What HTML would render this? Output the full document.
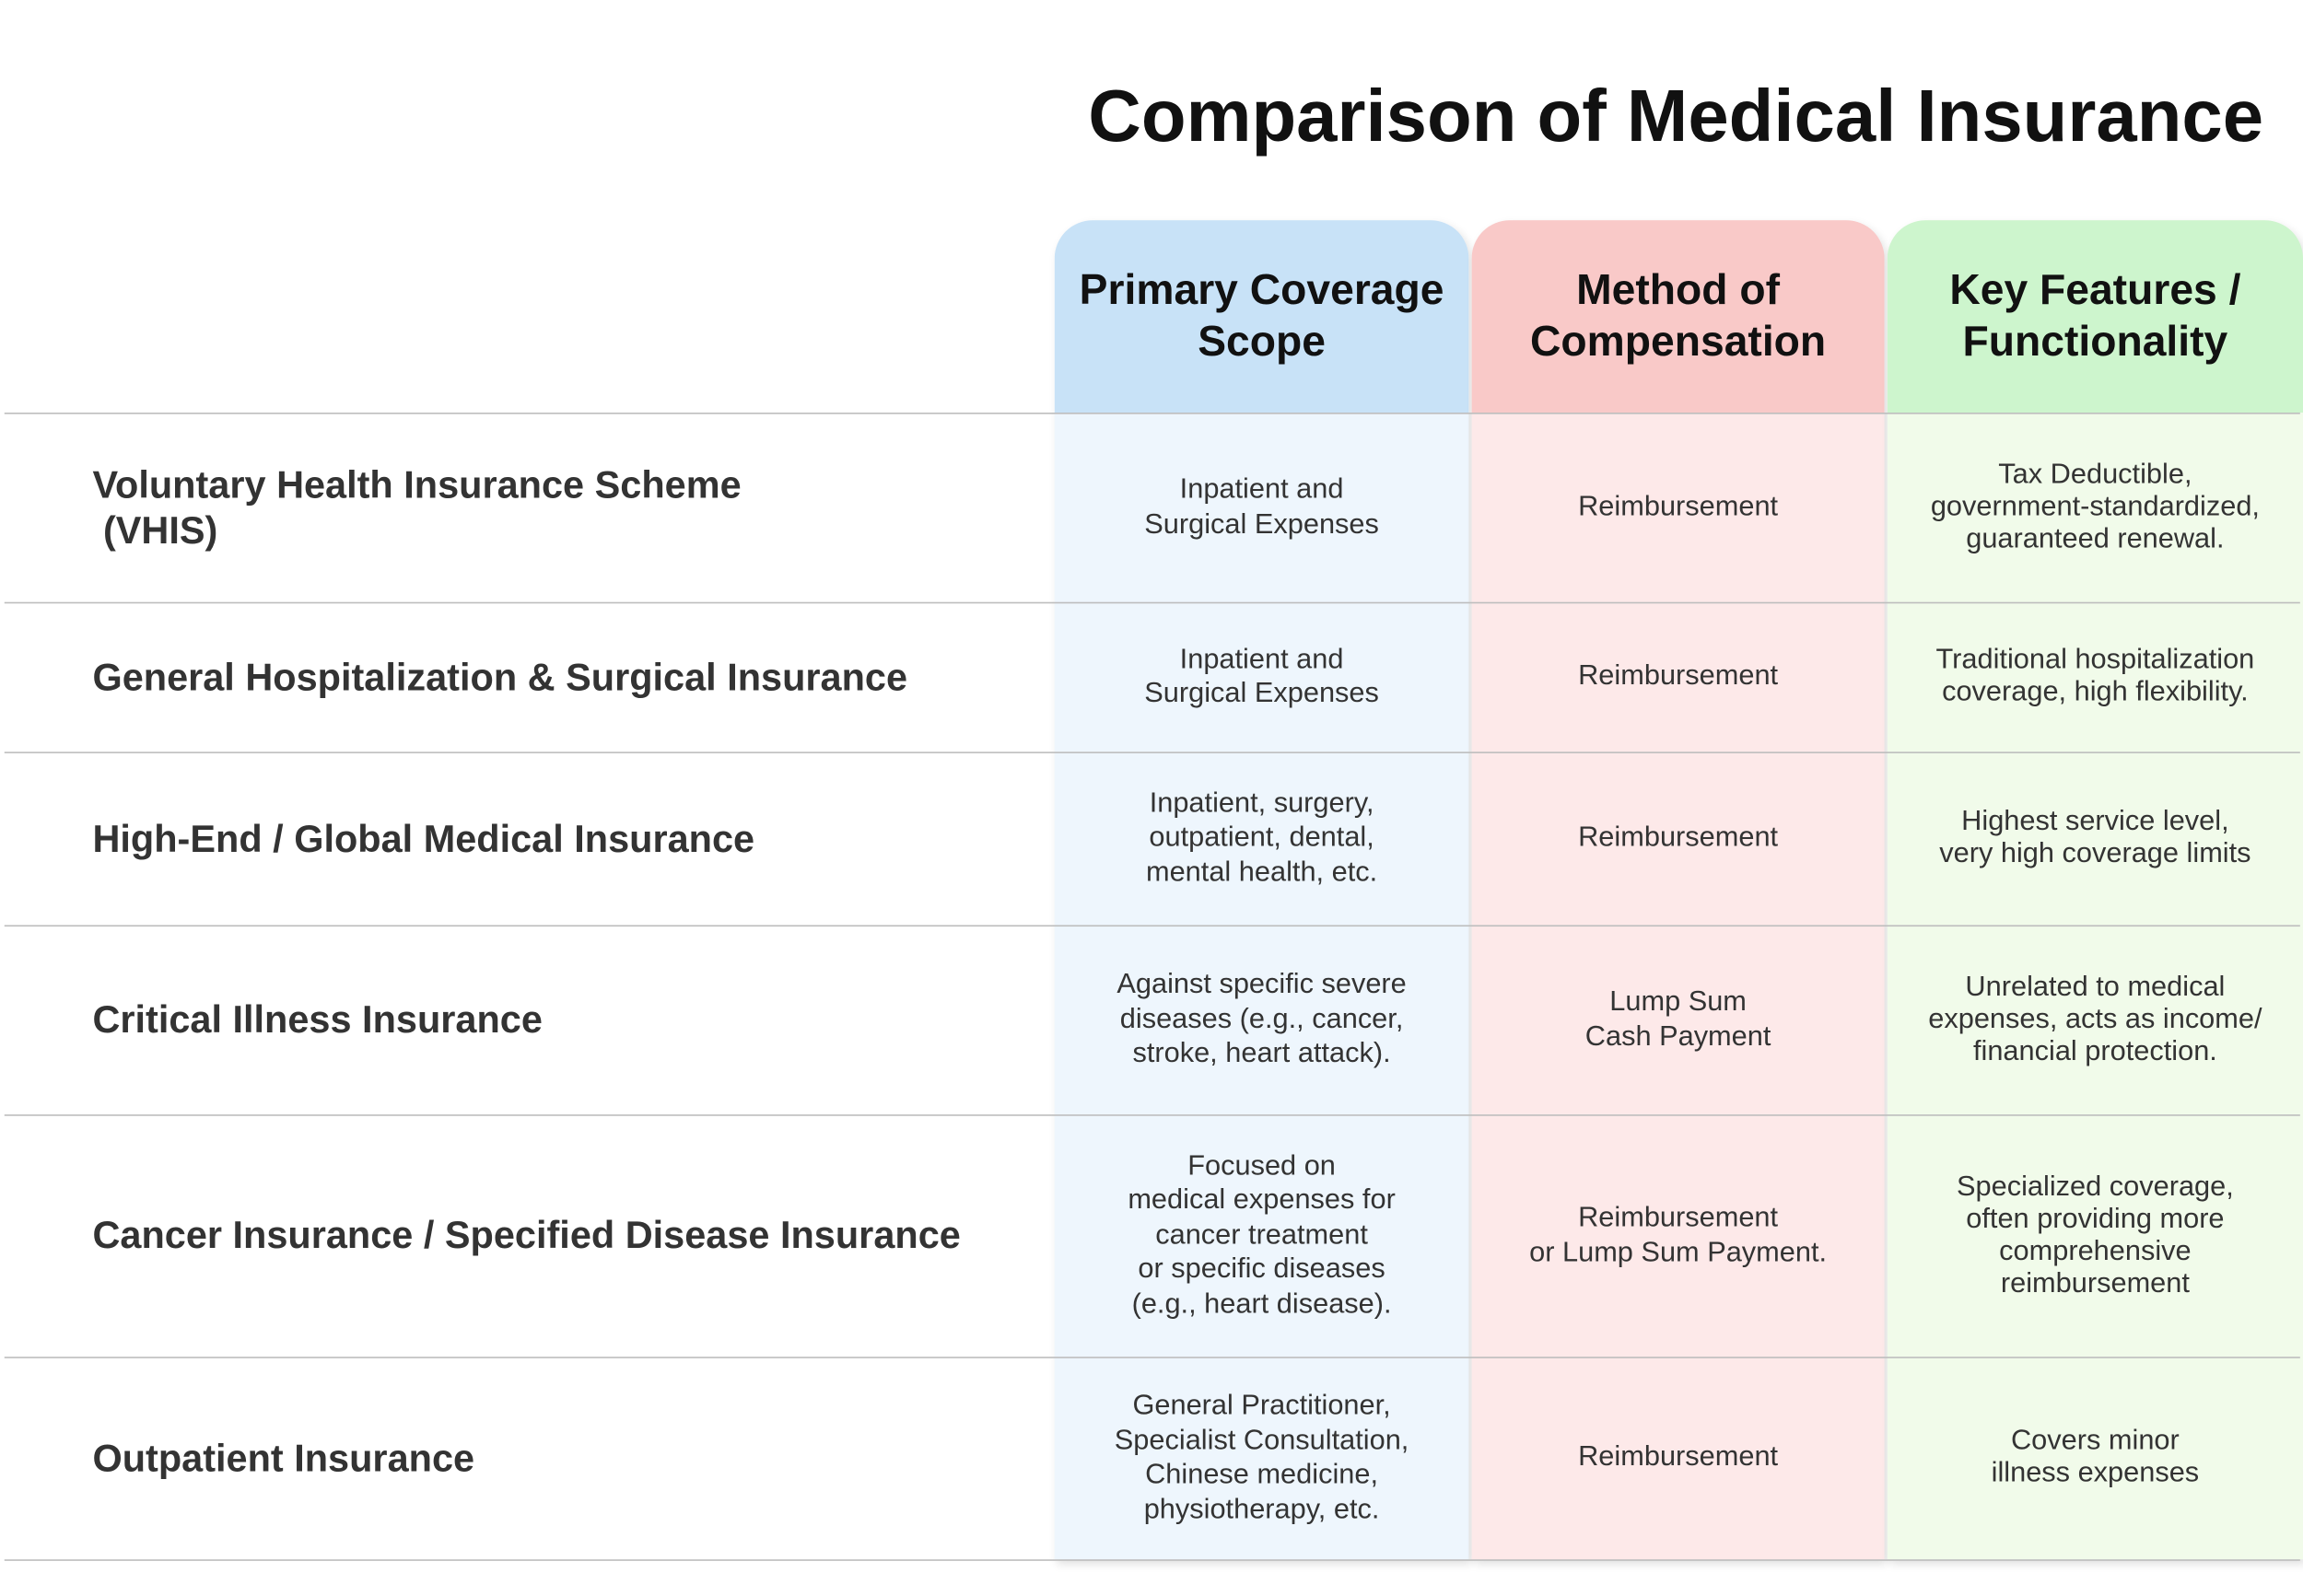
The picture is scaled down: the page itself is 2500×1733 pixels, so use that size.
<!DOCTYPE html>
<html><head><meta charset="utf-8">
<style>
html,body{margin:0;padding:0;background:#fff;}
body{width:2500px;height:1733px;overflow:hidden;position:relative;}
#w{position:absolute;left:0;top:0;width:1568px;height:1087px;transform:scale(1.5944);transform-origin:0 0;font-family:"Liberation Sans","DejaVu Sans",sans-serif;color:#222;}
.t{position:absolute;left:641px;width:1000px;top:50px;text-align:center;font-size:50px;font-weight:bold;color:#111;white-space:nowrap;}
.col{position:absolute;top:150px;height:912px;box-shadow:2px 3px 6px rgba(0,0,0,0.12);border-radius:26px 26px 0 0;overflow:hidden;}
.hd{position:absolute;left:0;top:0;width:100%;height:131px;display:flex;align-items:center;justify-content:center;text-align:center;font-size:29px;font-weight:bold;line-height:35px;color:#111;}
.bd{position:absolute;left:0;top:131px;width:100%;bottom:0;}
.line{position:absolute;left:3px;width:1563px;height:1px;background:#bdbdbd;}
.lab{position:absolute;left:63px;font-size:26px;font-weight:bold;color:#333;display:flex;align-items:center;line-height:31px;}
.c{position:absolute;display:flex;align-items:center;justify-content:center;text-align:center;font-size:19.3px;line-height:23.5px;color:#333;}
</style></head><body><div id="w">
<div class="t">Comparison of Medical Insurance</div>

<div class="col" style="left:718px;width:282px;background:#eef6fd"><div class="hd" style="background:#c8e2f7">Primary Coverage<br>Scope</div></div>
<div class="col" style="left:1002px;width:281px;background:#fde9e9"><div class="hd" style="background:#f9c9c8">Method of<br>Compensation</div></div>
<div class="col" style="left:1285px;width:283px;background:#f1fbea"><div class="hd" style="background:#cdf5cd">Key Features /<br>Functionality</div></div>

<div class="line" style="top:281px"></div>
<div class="line" style="top:410px"></div>
<div class="line" style="top:512px"></div>
<div class="line" style="top:630px"></div>
<div class="line" style="top:759px"></div>
<div class="line" style="top:924px"></div>
<div class="line" style="top:1062px"></div>

<div class="lab" style="top:281px;height:129px">Voluntary Health Insurance Scheme<br>&nbsp;(VHIS)</div>
<div class="lab" style="top:410px;height:102px">General Hospitalization &amp; Surgical Insurance</div>
<div class="lab" style="top:512px;height:118px">High-End / Global Medical Insurance</div>
<div class="lab" style="top:630px;height:129px">Critical Illness Insurance</div>
<div class="lab" style="top:759px;height:165px">Cancer Insurance / Specified Disease Insurance</div>
<div class="lab" style="top:924px;height:138px">Outpatient Insurance</div>

<div class="c" style="left:718px;width:282px;top:281px;height:129px">Inpatient and<br>Surgical Expenses</div>
<div class="c" style="left:1002px;width:281px;top:281px;height:129px">Reimbursement</div>
<div class="c" style="left:1285px;width:283px;top:281px;height:129px;line-height:22px">Tax Deductible,<br>government-standardized,<br>guaranteed renewal.</div>

<div class="c" style="left:718px;width:282px;top:410px;height:102px">Inpatient and<br>Surgical Expenses</div>
<div class="c" style="left:1002px;width:281px;top:410px;height:102px">Reimbursement</div>
<div class="c" style="left:1285px;width:283px;top:410px;height:102px;line-height:22px">Traditional hospitalization<br>coverage, high flexibility.</div>

<div class="c" style="left:718px;width:282px;top:512px;height:118px">Inpatient, surgery,<br>outpatient, dental,<br>mental health, etc.</div>
<div class="c" style="left:1002px;width:281px;top:512px;height:118px">Reimbursement</div>
<div class="c" style="left:1285px;width:283px;top:512px;height:118px;line-height:22px">Highest service level,<br>very high coverage limits</div>

<div class="c" style="left:718px;width:282px;top:630px;height:129px">Against specific severe<br>diseases (e.g., cancer,<br>stroke, heart attack).</div>
<div class="c" style="left:1002px;width:281px;top:630px;height:129px">Lump Sum<br>Cash Payment</div>
<div class="c" style="left:1285px;width:283px;top:630px;height:129px;line-height:22px">Unrelated to medical<br>expenses, acts as income/<br>financial protection.</div>

<div class="c" style="left:718px;width:282px;top:759px;height:165px">Focused on<br>medical expenses for<br>cancer treatment<br>or specific diseases<br>(e.g., heart disease).</div>
<div class="c" style="left:1002px;width:281px;top:759px;height:165px">Reimbursement<br>or Lump Sum Payment.</div>
<div class="c" style="left:1285px;width:283px;top:759px;height:165px;line-height:22px">Specialized coverage,<br>often providing more<br>comprehensive<br>reimbursement</div>

<div class="c" style="left:718px;width:282px;top:924px;height:138px">General Practitioner,<br>Specialist Consultation,<br>Chinese medicine,<br>physiotherapy, etc.</div>
<div class="c" style="left:1002px;width:281px;top:924px;height:138px">Reimbursement</div>
<div class="c" style="left:1285px;width:283px;top:924px;height:138px;line-height:22px">Covers minor<br>illness expenses</div>
</div></body></html>
